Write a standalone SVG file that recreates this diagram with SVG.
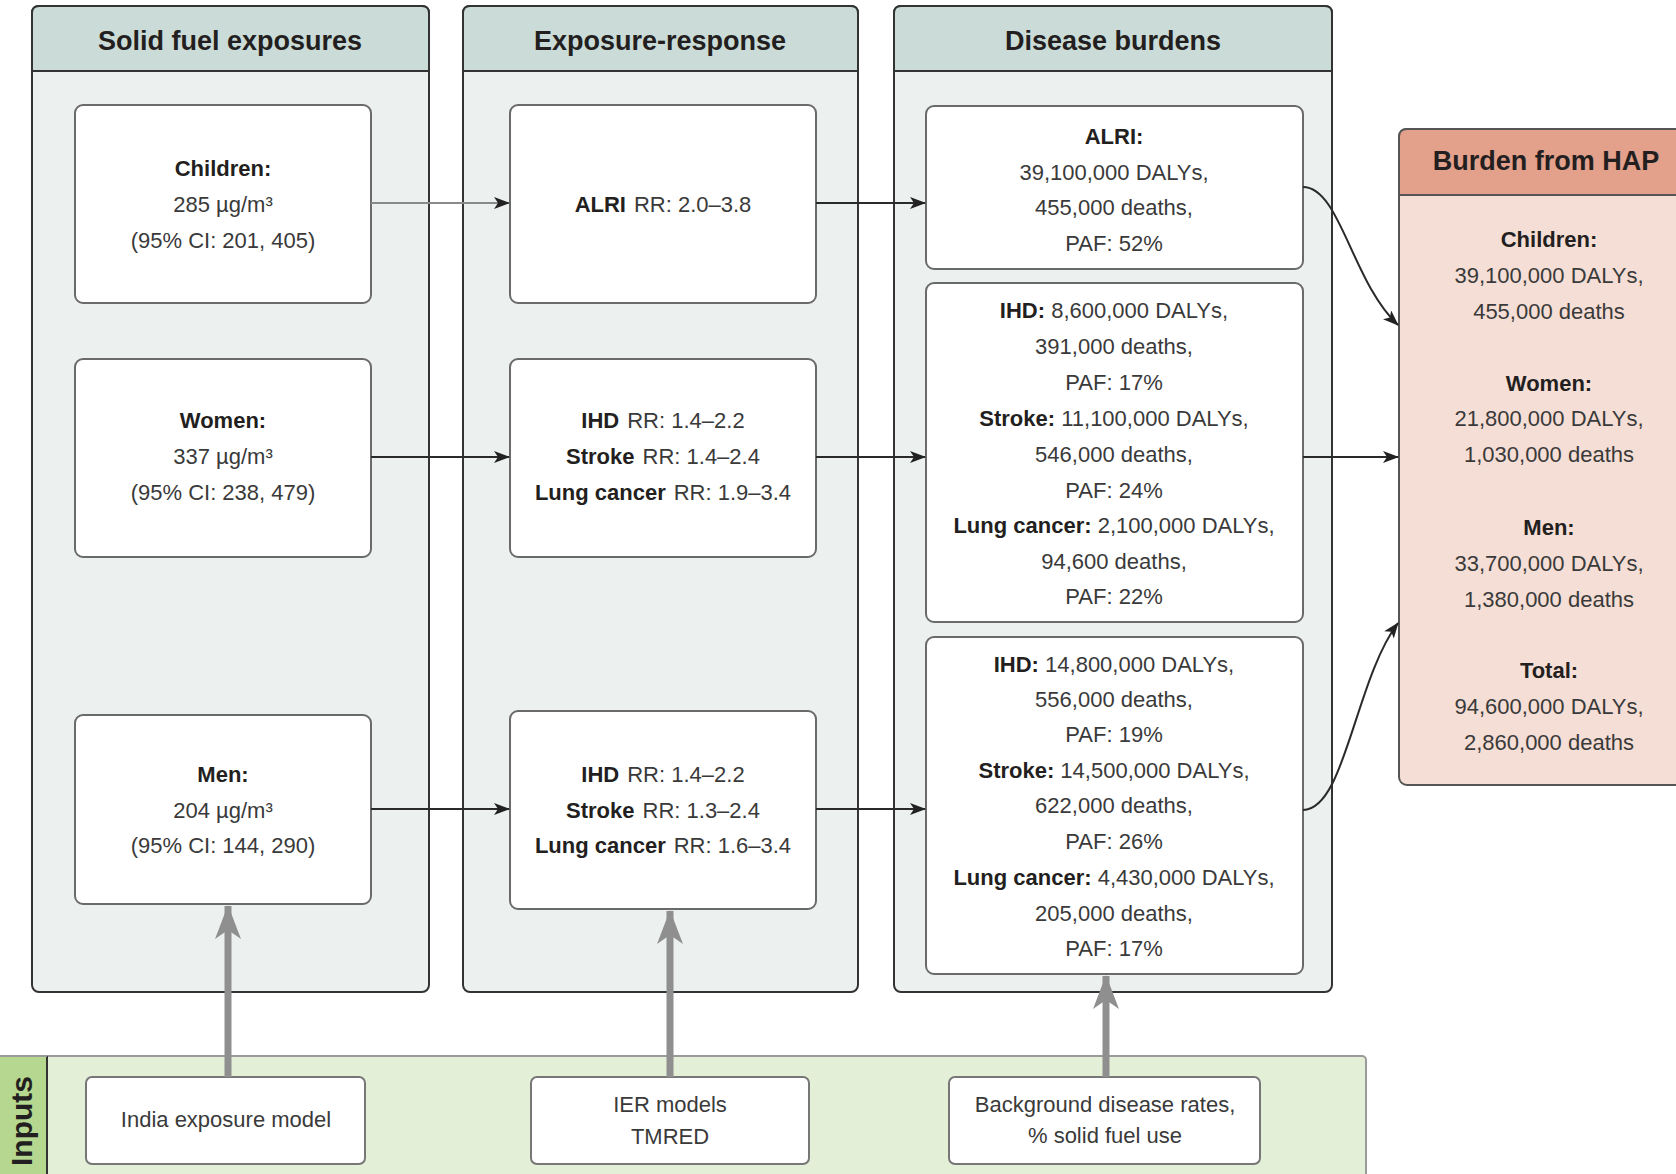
<svg xmlns="http://www.w3.org/2000/svg" width="1676" height="1174" viewBox="0 0 1676 1174">
<style>
text{font-family:"Liberation Sans",Arial,sans-serif;fill:#3a3a3a;font-size:22px}
.b{font-weight:bold;fill:#231f20}
.t{font-weight:bold;font-size:27px;fill:#231f20;text-anchor:middle}
.c{text-anchor:middle}
.inp{font-weight:bold;font-size:30px;fill:#231f20;text-anchor:middle}
.pb{fill:#ecf0ef;stroke:#333;stroke-width:2}
.ph{fill:#cbdcd8;stroke:#333;stroke-width:2}
.node{fill:#fff;stroke:#6a6a6a;stroke-width:2}
.ibox{fill:#fff;stroke:#777;stroke-width:2}
.con{fill:none;stroke:#2a2a2a;stroke-width:2}
.con.g{stroke:#8a8a8a}
.gcon{fill:none;stroke:#8f8f8f;stroke-width:7}
</style>
<defs>
<marker id="ah" viewBox="0 0 16 12" refX="15" refY="6" markerWidth="16" markerHeight="12" markerUnits="userSpaceOnUse" orient="auto">
<path d="M0,0 L16,6 L0,12 L4,6 z" fill="#222"/>
</marker>
<marker id="gah" viewBox="0 0 34 26" refX="33" refY="13" markerWidth="34" markerHeight="26" markerUnits="userSpaceOnUse" orient="auto">
<path d="M0,0 L34,13 L0,26 L9,13 z" fill="#8f8f8f"/>
</marker>
</defs>

<!-- Inputs band -->
<g id="inputs-band">
<rect x="-2" y="1056" width="1368" height="130" rx="4" fill="#e3efd7" stroke="#9a9a9a" stroke-width="2"/>
<rect x="-2" y="1056" width="49" height="130" fill="#b5d78f" stroke="none"/>
<line x1="47" y1="1056" x2="47" y2="1174" stroke="#333" stroke-width="2"/>
<line x1="0" y1="1056" x2="47" y2="1056" stroke="#9a9a9a" stroke-width="2"/>
<text class="inp" transform="translate(32,1121) rotate(-90)">Inputs</text>
</g>

<!-- Panels -->
<g id="panel-solid-fuel">
<rect class="pb" x="32" y="6" width="397" height="986" rx="7"/>
<path class="ph" d="M32,71 L32,13 Q32,6 39,6 L422,6 Q429,6 429,13 L429,71 Z"/>
<text class="t" x="230" y="50">Solid fuel exposures</text>
</g>
<g id="panel-exposure-response">
<rect class="pb" x="463" y="6" width="395" height="986" rx="7"/>
<path class="ph" d="M463,71 L463,13 Q463,6 470,6 L851,6 Q858,6 858,13 L858,71 Z"/>
<text class="t" x="660" y="50">Exposure-response</text>
</g>
<g id="panel-disease-burdens">
<rect class="pb" x="894" y="6" width="438" height="986" rx="7"/>
<path class="ph" d="M894,71 L894,13 Q894,6 901,6 L1325,6 Q1332,6 1332,13 L1332,71 Z"/>
<text class="t" x="1113" y="50">Disease burdens</text>
</g>
<g id="panel-burden-hap">
<rect x="1399" y="129" width="320" height="656" rx="8" fill="#f5ded5" stroke="#555" stroke-width="2"/>
<path d="M1399,195 L1399,137 Q1399,129 1407,129 L1720,129 L1720,195 Z" fill="#e3a08b" stroke="#555" stroke-width="2"/>
<text class="t" x="1546" y="170">Burden from HAP</text>
<text class="c b" x="1549" y="247">Children:</text>
<text class="c" x="1549" y="283">39,100,000 DALYs,</text>
<text class="c" x="1549" y="319">455,000 deaths</text>
<text class="c b" x="1549" y="391">Women:</text>
<text class="c" x="1549" y="426">21,800,000 DALYs,</text>
<text class="c" x="1549" y="462">1,030,000 deaths</text>
<text class="c b" x="1549" y="535">Men:</text>
<text class="c" x="1549" y="571">33,700,000 DALYs,</text>
<text class="c" x="1549" y="607">1,380,000 deaths</text>
<text class="c b" x="1549" y="678">Total:</text>
<text class="c" x="1549" y="714">94,600,000 DALYs,</text>
<text class="c" x="1549" y="750">2,860,000 deaths</text>
</g>

<!-- Exposure nodes -->
<g id="node-children">
<rect class="node" x="75" y="105" width="296" height="198" rx="8"/>
<text class="c b" x="223" y="176">Children:</text>
<text class="c" x="223" y="212">285 µg/m³</text>
<text class="c" x="223" y="248">(95% CI: 201, 405)</text>
</g>
<g id="node-women">
<rect class="node" x="75" y="359" width="296" height="198" rx="8"/>
<text class="c b" x="223" y="428">Women:</text>
<text class="c" x="223" y="464">337 µg/m³</text>
<text class="c" x="223" y="500">(95% CI: 238, 479)</text>
</g>
<g id="node-men">
<rect class="node" x="75" y="715" width="296" height="189" rx="8"/>
<text class="c b" x="223" y="782">Men:</text>
<text class="c" x="223" y="818">204 µg/m³</text>
<text class="c" x="223" y="853">(95% CI: 144, 290)</text>
</g>

<!-- Exposure-response nodes -->
<g id="node-rr-alri">
<rect class="node" x="510" y="105" width="306" height="198" rx="8"/>
<text class="c" x="663" y="212"><tspan class="b">ALRI</tspan><tspan dx="8">RR: 2.0–3.8</tspan></text>
</g>
<g id="node-rr-women">
<rect class="node" x="510" y="359" width="306" height="198" rx="8"/>
<text class="c" x="663" y="428"><tspan class="b">IHD</tspan><tspan dx="8">RR: 1.4–2.2</tspan></text>
<text class="c" x="663" y="464"><tspan class="b">Stroke</tspan><tspan dx="8">RR: 1.4–2.4</tspan></text>
<text class="c" x="663" y="500"><tspan class="b">Lung cancer</tspan><tspan dx="8">RR: 1.9–3.4</tspan></text>
</g>
<g id="node-rr-men">
<rect class="node" x="510" y="711" width="306" height="198" rx="8"/>
<text class="c" x="663" y="782"><tspan class="b">IHD</tspan><tspan dx="8">RR: 1.4–2.2</tspan></text>
<text class="c" x="663" y="818"><tspan class="b">Stroke</tspan><tspan dx="8">RR: 1.3–2.4</tspan></text>
<text class="c" x="663" y="853"><tspan class="b">Lung cancer</tspan><tspan dx="8">RR: 1.6–3.4</tspan></text>
</g>

<!-- Disease burden nodes -->
<g id="node-burden-children">
<rect class="node" x="926" y="106" width="377" height="163" rx="8"/>
<text class="c b" x="1114" y="144">ALRI:</text>
<text class="c" x="1114" y="180">39,100,000 DALYs,</text>
<text class="c" x="1114" y="215">455,000 deaths,</text>
<text class="c" x="1114" y="251">PAF: 52%</text>
</g>
<g id="node-burden-women">
<rect class="node" x="926" y="283" width="377" height="339" rx="8"/>
<text class="c" x="1114" y="318"><tspan class="b">IHD:</tspan> 8,600,000 DALYs,</text>
<text class="c" x="1114" y="354">391,000 deaths,</text>
<text class="c" x="1114" y="390">PAF: 17%</text>
<text class="c" x="1114" y="426"><tspan class="b">Stroke:</tspan> 11,100,000 DALYs,</text>
<text class="c" x="1114" y="462">546,000 deaths,</text>
<text class="c" x="1114" y="498">PAF: 24%</text>
<text class="c" x="1114" y="533"><tspan class="b">Lung cancer:</tspan> 2,100,000 DALYs,</text>
<text class="c" x="1114" y="569">94,600 deaths,</text>
<text class="c" x="1114" y="604">PAF: 22%</text>
</g>
<g id="node-burden-men">
<rect class="node" x="926" y="637" width="377" height="337" rx="8"/>
<text class="c" x="1114" y="672"><tspan class="b">IHD:</tspan> 14,800,000 DALYs,</text>
<text class="c" x="1114" y="707">556,000 deaths,</text>
<text class="c" x="1114" y="742">PAF: 19%</text>
<text class="c" x="1114" y="778"><tspan class="b">Stroke:</tspan> 14,500,000 DALYs,</text>
<text class="c" x="1114" y="813">622,000 deaths,</text>
<text class="c" x="1114" y="849">PAF: 26%</text>
<text class="c" x="1114" y="885"><tspan class="b">Lung cancer:</tspan> 4,430,000 DALYs,</text>
<text class="c" x="1114" y="921">205,000 deaths,</text>
<text class="c" x="1114" y="956">PAF: 17%</text>
</g>

<!-- Input nodes -->
<g id="node-india-exposure-model">
<rect class="ibox" x="86" y="1077" width="279" height="87" rx="6"/>
<text class="c" x="226" y="1127">India exposure model</text>
</g>
<g id="node-ier-models">
<rect class="ibox" x="531" y="1077" width="278" height="87" rx="6"/>
<text class="c" x="670" y="1112">IER models</text>
<text class="c" x="670" y="1144">TMRED</text>
</g>
<g id="node-background-rates">
<rect class="ibox" x="949" y="1077" width="311" height="87" rx="6"/>
<text class="c" x="1105" y="1112">Background disease rates,</text>
<text class="c" x="1105" y="1143">% solid fuel use</text>
</g>

<!-- Connectors -->
<g id="connectors">
<path class="con g" d="M371,203 L509,203" marker-end="url(#ah)"/>
<path class="con" d="M816,203 L925,203" marker-end="url(#ah)"/>
<path class="con" d="M371,457 L509,457" marker-end="url(#ah)"/>
<path class="con" d="M816,457 L925,457" marker-end="url(#ah)"/>
<path class="con" d="M1303,457 L1398,457" marker-end="url(#ah)"/>
<path class="con" d="M371,809 L509,809" marker-end="url(#ah)"/>
<path class="con" d="M816,809 L925,809" marker-end="url(#ah)"/>
<path class="con" d="M1303,187 C1340,187 1352,282 1398,325" marker-end="url(#ah)"/>
<path class="con" d="M1303,810 C1345,810 1355,680 1398,623" marker-end="url(#ah)"/>
<path class="gcon" d="M228,1077 L228,906" marker-end="url(#gah)"/>
<path class="gcon" d="M670,1077 L670,911" marker-end="url(#gah)"/>
<path class="gcon" d="M1106,1077 L1106,976" marker-end="url(#gah)"/>
</g>
</svg>
